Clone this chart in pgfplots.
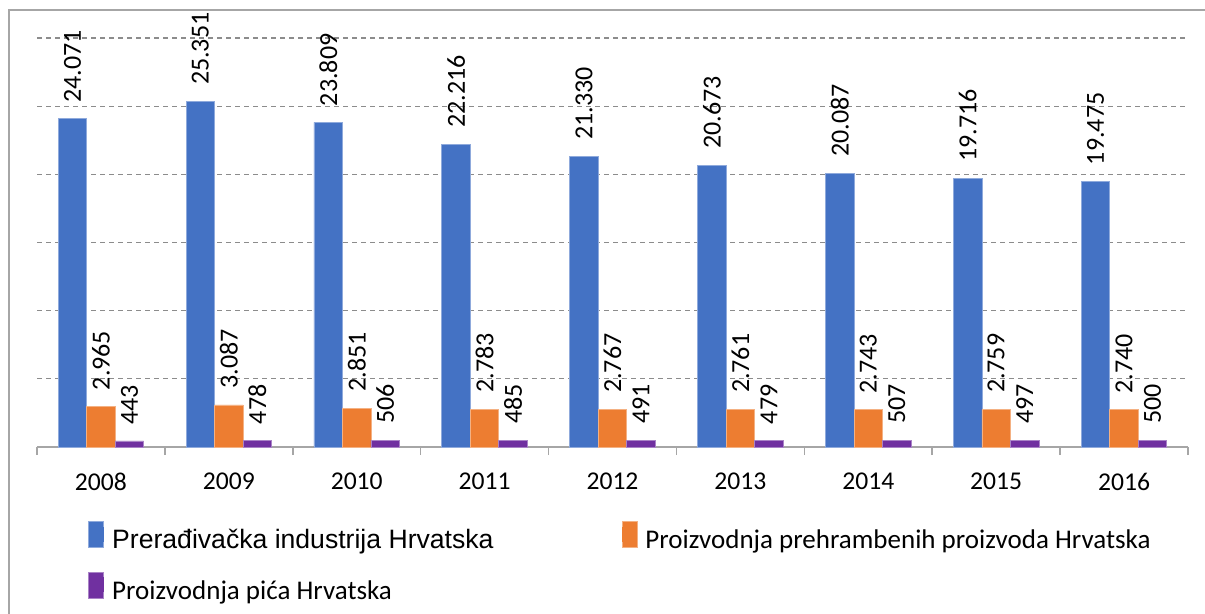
\documentclass[border=0pt]{standalone}
\usepackage{pgfplots}
\pgfplotsset{compat=1.18}
\usepackage{fontspec}
\setmainfont{Carlito}
\newfontfamily\arialf{Liberation Sans}
\definecolor{cblue}{HTML}{4472C4}
\definecolor{corange}{HTML}{ED7D31}
\definecolor{cpurple}{HTML}{7030A0}
\definecolor{cgrid}{HTML}{8C8C8C}
\definecolor{caxis}{HTML}{A6A6A6}
\pgfplotsset{sqlegend/.style={legend image code/.code={\path (0pt,-3pt) rectangle (7.5pt,10pt);\fill[##1,draw=none] (0pt,0pt) rectangle (7.5pt,7.5pt);}}}

\pgfplotstableread{
x p1 p2 p3
0 24071 2965 443
1 25351 3087 478
2 23809 2851 506
3 22216 2783 485
4 21330 2767 491
5 20673 2761 479
6 20087 2743 507
7 19716 2759 497
8 19475 2740 500
}\datatable

\begin{document}
\begin{tikzpicture}
\useasboundingbox (0,0) rectangle (602.5pt,-307pt);
\draw[caxis, line width=1pt] (4.5pt,-320pt) -- (4.5pt,-5pt) -- (620pt,-5pt);
\begin{axis}[
  at={(18.5pt,-223.5pt)}, anchor=south west,
  scale only axis, width=575.5pt, height=204.5pt,
  ymin=0, ymax=30000, xmin=-0.5, xmax=8.5,
  scaled y ticks=false,
  ybar=0pt, bar width=14.25pt,
  axis x line*=bottom, axis y line*=left,
  x axis line style={caxis, line width=0.8pt},
  y axis line style={draw=none},
  ytick={5000,10000,...,30000}, yticklabels={},
  ytick style={draw=none},
  ymajorgrids, major grid style={cgrid, line width=0.6pt, dash pattern=on 2.5pt off 2pt},
  xtick={0,...,8},
  xticklabels={2008,2009,2010,2011,2012,2013,2014,2015,2016},
  xtick style={draw=none},
  xticklabel style={font=\fontsize{12.8}{15}\selectfont, inner sep=0pt, anchor=north, yshift=-8.5pt},
  extra x ticks={-0.5,0.5,...,8.5},
  extra x tick labels={},
  extra x tick style={grid=none, xtick style={draw=caxis, line width=0.8pt}, major tick length=4pt, tick align=outside},
  nodes near coords={\pgfmathprintnumber[fixed, precision=0, 1000 sep={.}, assume math mode=true]{\pgfplotspointmeta}},
  every node near coord/.append style={rotate=90, anchor=west, font=\fontsize{13}{15}\selectfont, inner sep=0pt, inner xsep=8pt, black},
  legend columns=2,
  legend cell align=left,
  legend style={at={(axis description cs:0.0443,-0.181)}, anchor=north west, draw=none, fill=none, inner sep=0pt,
    font=\fontsize{13.5}{15}\selectfont,
    nodes={inner sep=0pt, text height=10pt, text depth=3pt},
    row sep=8.5pt,
    /tikz/every odd column/.append style={column sep=4pt},
    /tikz/every even column/.append style={column sep=64pt}},
]
\addplot[sqlegend, fill=cblue, draw=cblue!60!white, line width=0.4pt] table[x=x,y=p1] {\datatable};
\addlegendentry{{\arialf\fontsize{13.3}{15}\selectfont Prerađivačka industrija Hrvatska}}
\addplot[sqlegend, fill=corange, draw=corange!60!white, line width=0.4pt] table[x=x,y=p2] {\datatable};
\addlegendentry{Proizvodnja prehrambenih proizvoda Hrvatska}
\addplot[sqlegend, fill=cpurple, draw=cpurple!60!white, line width=0.4pt] table[x=x,y=p3] {\datatable};
\addlegendentry{Proizvodnja pića Hrvatska}
\end{axis}
\end{tikzpicture}
\end{document}
